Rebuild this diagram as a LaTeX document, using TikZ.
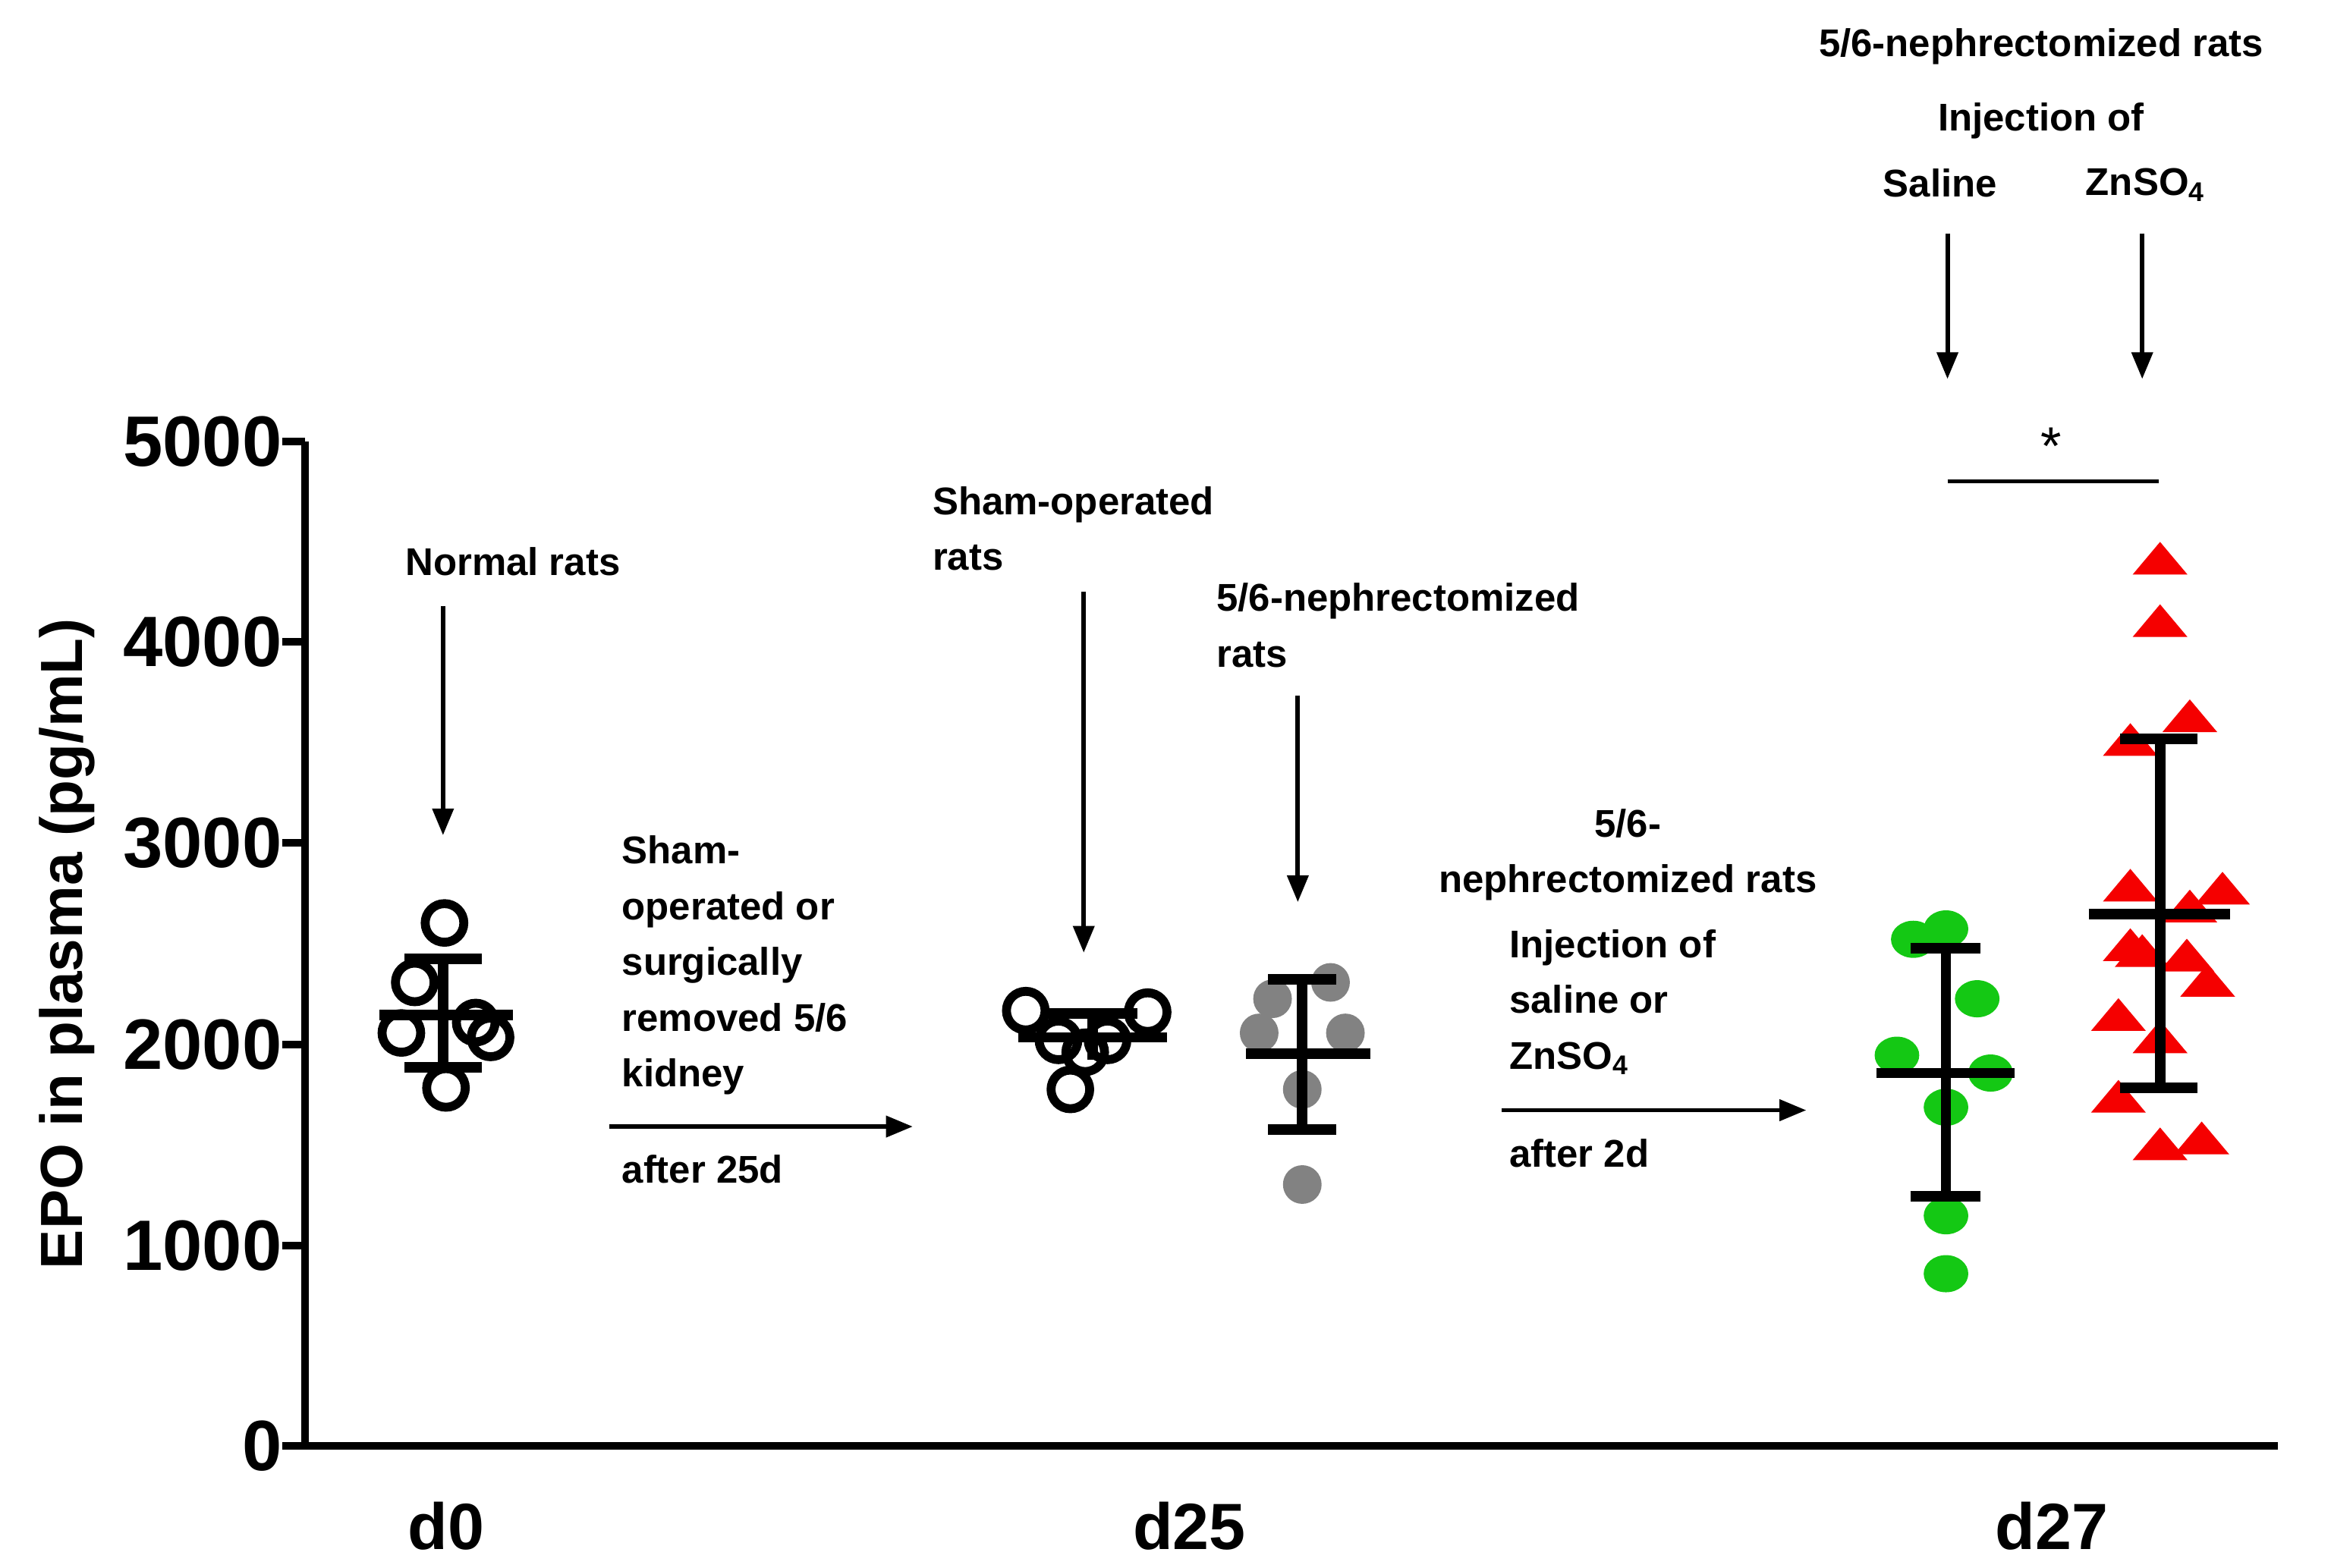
\documentclass[tikz,border=0pt]{standalone}
\usepackage{fontspec}
\setmainfont{Liberation Sans}
\usetikzlibrary{arrows.meta,shapes.geometric}
\definecolor{ptgreen}{RGB}{20,200,20}
\definecolor{ptgrey}{RGB}{130,130,130}
\definecolor{ptred}{RGB}{245,0,0}
\tikzset{every picture/.style={line width=0.75pt}}
\tikzset{
  lbl/.style={font=\fontsize{26}{37.5}\selectfont\bfseries, inner sep=0pt, align=left},
  pointer/.style={line width=3pt, -{Triangle[length=18,width=14]}},
  bar/.style={line width=7pt},
  opendot/.style={draw=black, line width=6pt, circle, minimum size=26pt, inner sep=0pt},
  greydot/.style={fill=ptgrey, circle, minimum size=26pt, inner sep=0pt},
  greendot/.style={fill=ptgreen, ellipse, minimum width=30pt, minimum height=25pt, inner sep=0pt},
  redtri/.style={fill=ptred, isosceles triangle, shape border rotate=90, isosceles triangle apex angle=80, minimum width=28pt, minimum height=22pt, inner sep=0pt},
}
\begin{document}
\begin{tikzpicture}[x=1pt,y=1pt,yscale=-1,xscale=1]
\useasboundingbox (0,0) rectangle (1568,1055);

% axes
\draw [line width=5pt] (205,297) -- (205,973) -- (1532,973);
\foreach \v/\yy in {0/973,1000/838,2000/703,3000/567,4000/432,5000/297}{
  \draw [line width=5pt] (190,\yy) -- (205,\yy);
  \node [anchor=east, inner sep=0pt, font=\fontsize{48}{48}\selectfont\bfseries] (t\v) at (190,\yy) {\v};
}
\node [rotate=90, font=\fontsize{40}{40}\selectfont\bfseries, inner sep=0pt] (ylab) at (45,635) {EPO in plasma (pg/mL)};
\node [font=\fontsize{44}{44}\selectfont\bfseries, inner sep=0pt] (d0) at (300,1027) {d0};
\node [font=\fontsize{44}{44}\selectfont\bfseries, inner sep=0pt] (d25) at (800,1027) {d25};
\node [font=\fontsize{44}{44}\selectfont\bfseries, inner sep=0pt] (d27) at (1380,1027) {d27};

% d0 normal rats
\foreach \px/\py in {299/621,279/661,270/695,320/688,330/698,300/732}
  \node [opendot] at (\px,\py) {};
\draw [bar] (255,683) -- (345,683) (298,645) -- (298,718) (272,645) -- (324,645) (272,718) -- (324,718);

% d25 sham
\foreach \px/\py in {690/680,772/681,712/700,745/700,730/708,720/733}
  \node [opendot] at (\px,\py) {};
\draw [bar] (685,698) -- (785,698) (735,682) -- (735,713) (705,682) -- (765,682);

% d25 nephrectomized
\foreach \px/\py in {856/672,895/661,847/695,905/695,876/733,876/797}
  \node [greydot] at (\px,\py) {};
\draw [bar] (838,709) -- (922,709) (876,659) -- (876,760) (853,659) -- (899,659) (853,760) -- (899,760);

% d27 saline
\foreach \px/\py in {1287/632,1309/625,1330/672,1276/710,1339/722,1309/745,1309/818,1309/857}
  \node [greendot] at (\px,\py) {};
\draw [bar] (1262,722) -- (1355,722) (1309,638) -- (1309,805) (1285,638) -- (1332,638) (1285,805) -- (1332,805);

% d27 ZnSO4
\foreach \px/\py in {1453/378,1453/420,1473/484,1433/500,1433/598,1495/600,1473/612,1433/638,1441/642,1471/645,1485/662,1425/685,1453/700,1425/740,1453/772,1481/768}
  \node [redtri] at (\px,\py) {};
\draw [bar] (1405,615) -- (1500,615) (1453,497) -- (1453,732) (1426,497) -- (1478,497) (1426,732) -- (1478,732);

% significance
\draw [line width=2.5pt] (1310,324) -- (1452,324);
\node [font=\fontsize{36}{36}\selectfont, inner sep=0pt] (star) at (1380,300) {*};

% labels and pointers
\node [lbl, anchor=base] (normal) at (345,387) {Normal rats};
\coordinate (normaltip) at (298,562);
\draw [pointer] (298,408) -- (normaltip);

\node [lbl, anchor=north west] (sham) at (627,327) {Sham-operated\\rats};
\coordinate (shamtip) at (729,641);
\draw [pointer] (729,398) -- (shamtip);

\node [lbl, anchor=north west] (nephr) at (818,392) {5/6-nephrectomized\\rats};
\coordinate (nephrtip) at (873,607);
\draw [pointer] (873,468) -- (nephrtip);

\node [lbl, anchor=north west] (surg) at (418,562) {Sham-\\operated or\\surgically\\removed 5/6\\kidney};
\coordinate (surgA) at (410,758);
\coordinate (surgB) at (614,758);
\draw [pointer] (surgA) -- (surgB);
\node [lbl, anchor=north west] (after25) at (418,777) {after 25d};

\node [lbl, align=center, anchor=north] (nephr2) at (1095,544) {5/6-\\nephrectomized rats};
\node [lbl, anchor=north west] (inj) at (1015,625) {Injection of\\saline or\\ZnSO$_\mathbf{4}$};
\coordinate (injA) at (1010,747);
\coordinate (injB) at (1215,747);
\draw [pointer] (injA) -- (injB);
\node [lbl, anchor=north west] (after2) at (1015,766) {after 2d};

\node [lbl, anchor=north] (top) at (1373,19) {5/6-nephrectomized rats};
\node [lbl, anchor=north] (topinj) at (1373,69) {Injection of};
\node [lbl, anchor=north] (saline) at (1305,113) {Saline};
\node [lbl, anchor=north] (zn) at (1443,113) {ZnSO$_\mathbf{4}$};
\coordinate (salinetip) at (1310,255);
\coordinate (zntip) at (1441,255);
\draw [pointer] (1310,157) -- (salinetip);
\draw [pointer] (1441,157) -- (zntip);
\end{tikzpicture}
\end{document}
